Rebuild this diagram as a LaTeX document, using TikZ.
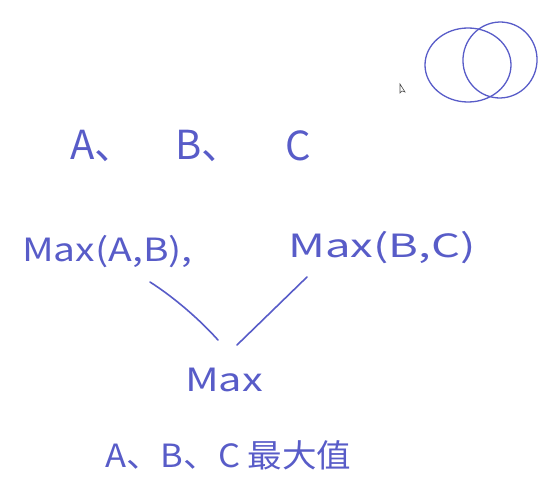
\documentclass[tikz,border=0pt]{standalone}
\usepackage{fontspec}
\usepackage{graphicx}
\setmainfont{Noto Sans CJK SC}
\begin{document}
\begin{tikzpicture}[x=1pt,y=-1pt,
  ink/.style={draw={rgb,255:red,88;green,92;blue,200}, line width=1.6pt, line cap=round},
  hand/.style={text={rgb,255:red,88;green,92;blue,200}, inner sep=0pt, anchor=west},
  big/.style={hand, font=\fontsize{40}{44}\selectfont},
  mid/.style={hand, font=\fontsize{32}{36}\selectfont}]
\useasboundingbox (0,0) rectangle (560,500);
% top letters
\node[big] (a) at (70,146) {A、};
\node[big] (b) at (175,146) {B、};
\node[big] (c) at (285,146) {C};
% max terms
\node[mid] (mab) at (22,252) {\scalebox{1.22}[1]{Max(A,B),}};
\node[mid] (mbc) at (288,248) {\scalebox{1.42}[1]{Max(B,C)}};
\node[mid] (mx) at (185,380) {\scalebox{1.3}[1]{Max}};
\coordinate (l1s) at (150,282);
\coordinate (l1e) at (218,340);
\coordinate (l2s) at (307,277);
\coordinate (l2e) at (237,345);
\draw[ink] (l1s) .. controls (175,298) and (200,320) .. (l1e);
\draw[ink] (l2s) -- (l2e);
% bottom
\node[mid] (res) at (105,455) {\scalebox{1.08}[1]{A、B、C 最大值}};
% circles
\draw[ink, line width=1.3pt] (468,65) ellipse [x radius=43, y radius=37];
\draw[ink, line width=1.3pt, rotate around={-10:(500,60)}] (500,60) ellipse [x radius=37, y radius=38];
% cursor
\draw[fill=white, draw=black!70, line width=0.6pt] (400,84) -- (400,93) -- (402,91) -- (405,92) -- cycle;
\end{tikzpicture}
\end{document}
